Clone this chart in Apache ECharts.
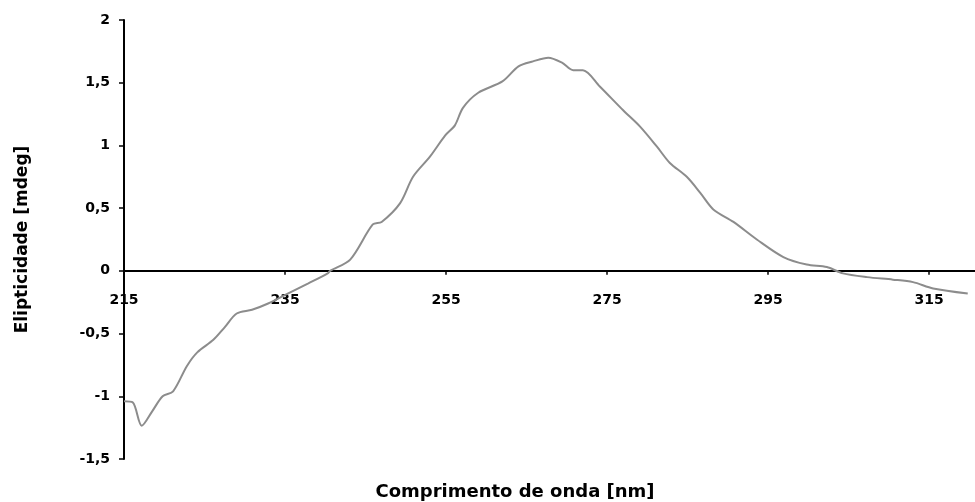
<!DOCTYPE html>
<html>
<head>
<meta charset="utf-8">
<script src="https://cdn.jsdelivr.net/npm/echarts@6/dist/echarts.min.js"></script>
<style>html,body{margin:0;padding:0;background:#fff}#c{width:975px;height:502px}</style>
</head>
<body>
<div id="c"></div>
<script>
const wavelength = [215, 216.1, 217.2, 218.5, 219.8, 221.1, 222.8, 224.1, 226.1, 227.5, 229.0, 230.9, 232.9, 235.4, 237.9, 240.3, 240.6, 243.1, 245.9, 247.0, 249.3, 250.9, 253.0, 254.9, 256.1, 257.1, 259.0, 262.0, 264.0, 265.8, 267.7, 269.4, 270.8, 272.0, 274.1, 277.0, 279.1, 281.2, 282.8, 284.9, 286.6, 288.2, 290.7, 293.6, 296.9, 299.8, 302.3, 304.3, 307.3, 310.5, 313.0, 315.5, 319.8];
const ellipticity = [-1.04, -1.05, -1.235, -1.12, -1.0, -0.96, -0.76, -0.65, -0.55, -0.45, -0.34, -0.31, -0.26, -0.18, -0.10, -0.02, 0, 0.09, 0.37, 0.39, 0.54, 0.75, 0.91, 1.08, 1.16, 1.30, 1.42, 1.51, 1.63, 1.67, 1.70, 1.66, 1.60, 1.60, 1.47, 1.28, 1.15, 0.99, 0.86, 0.75, 0.62, 0.49, 0.39, 0.25, 0.11, 0.05, 0.03, -0.02, -0.05, -0.07, -0.09, -0.14, -0.18];
const xLabels = [215, 235, 255, 275, 295, 315];
const xTicks = [215, 235, 255, 275, 295, 315];
const xTitle = 'Comprimento de onda [nm]';
const yTitle = 'Elipticidade [mdeg]';

const font = 'DejaVu Sans';
const chart = echarts.init(document.getElementById('c'));
chart.setOption({
  animation: false,
  backgroundColor: '#fff',
  grid: { left: 124, right: 0, top: 20, bottom: 43, containLabel: false },
  xAxis: {
    type: 'value', min: 215, max: 320.7,
    axisLine: { onZero: true, lineStyle: { color: '#000', width: 2 } },
    axisTick: { show: true, customValues: xTicks, length: 4, lineStyle: { color: '#000', width: 1.5 } },
    axisLabel: { customValues: xLabels, color: '#000', fontFamily: font, fontWeight: 'bold', fontSize: 14, margin: -166 },
    splitLine: { show: false }
  },
  yAxis: {
    type: 'value', min: -1.5, max: 2, interval: 0.5,
    name: yTitle, nameLocation: 'middle', nameGap: 93,
    nameTextStyle: { color: '#000', fontFamily: font, fontWeight: 'bold', fontSize: 17 },
    axisLine: { show: true, lineStyle: { color: '#000', width: 2 } },
    axisTick: { show: true, length: 5, lineStyle: { color: '#000', width: 1.5 } },
    axisLabel: { color: '#000', fontFamily: font, fontWeight: 'bold', fontSize: 14, margin: 14,
      formatter: v => String(v).replace('.', ',') },
    splitLine: { show: false }
  },
  graphic: [{
    type: 'text', x: 515, y: 492,
    style: { text: xTitle, textAlign: 'center', textVerticalAlign: 'middle',
      font: 'bold 18px "DejaVu Sans"', fill: '#000' }
  }],
  series: [{
    type: 'line', data: wavelength.map((x, i) => [x, ellipticity[i]]),
    showSymbol: false, smooth: 0.3,
    lineStyle: { color: '#8c8c8c', width: 2 }
  }]
});
</script>
</body>
</html>
